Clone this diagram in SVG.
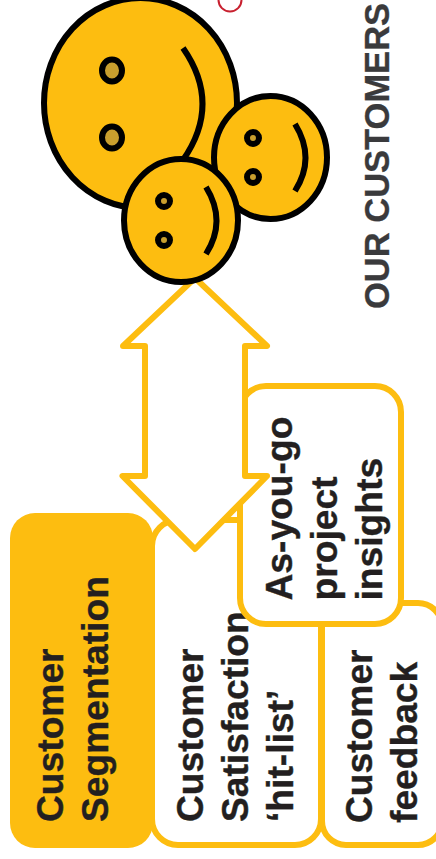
<svg xmlns="http://www.w3.org/2000/svg" width="436" height="859" viewBox="0 0 436 859">
<style>
.t{font-family:"Liberation Sans",Arial,sans-serif;font-weight:700;font-size:37.200px;fill:#231f20;stroke:#231f20;stroke-width:.4}
.b{fill:#fff;stroke:#fdbd10;stroke-width:6}
.f{fill:#fdbd10;stroke:#000;stroke-width:6}
.m{fill:none;stroke:#000;stroke-width:6}
.e{fill:#c99f2e;stroke:#000}
</style>
<rect width="436" height="859" fill="#fff"/>
<g id="marker-circle"><circle cx="230" cy="0" r="11.500" fill="#fff" stroke="#c8202f" stroke-width="2"/></g>
<g id="feedback"><rect class="b" x="322" y="603" width="120" height="242" rx="24"/>
<text class="t" transform="translate(371.500,823) rotate(-90)">Customer</text>
<text class="t" transform="translate(416.500,823) rotate(-90)">feedback</text></g>
<g id="satisfaction"><rect class="b" x="152" y="520" width="169" height="325" rx="26"/>
<text class="t" transform="translate(202.500,822) rotate(-90)">Customer</text>
<text class="t" transform="translate(247.500,822) rotate(-90)">Satisfaction</text>
<text class="t" transform="translate(292.500,822) rotate(-90)">‘hit-list’</text></g>
<g id="segmentation"><rect x="10" y="513" width="143" height="335" rx="25" fill="#fdbd10"/>
<text class="t" transform="translate(63,822) rotate(-90)">Customer</text>
<text class="t" transform="translate(108,822) rotate(-90)">Segmentation</text></g>
<g id="insights"><rect class="b" x="240" y="386" width="161" height="238" rx="26"/>
<text class="t" transform="translate(291.500,600.500) rotate(-90)">As-you-go</text>
<text class="t" transform="translate(336.500,600.500) rotate(-90)">project</text>
<text class="t" transform="translate(381.500,600.500) rotate(-90)">insights</text></g>
<g id="connectors"><path d="M195 278L267 346H245V476H267L195 549L122.500 476H145V346H123Z" fill="#fff" stroke="#fdbd10" stroke-width="6" stroke-linejoin="round"/></g>
<g id="large-face"><ellipse class="f" cx="140.500" cy="103" rx="96.500" ry="105"/>
<ellipse class="e" cx="112" cy="70.500" rx="10" ry="11" stroke-width="6"/><ellipse class="e" cx="112" cy="137.500" rx="10" ry="11" stroke-width="6"/>
<path class="m" d="M183 48Q222 104 183 160"/></g>
<g id="right-face"><ellipse class="f" cx="270.500" cy="157.500" rx="56.500" ry="61.500"/>
<circle class="e" cx="253" cy="138" r="6" stroke-width="6"/><circle class="e" cx="253" cy="177" r="6" stroke-width="6"/>
<path class="m" d="M295 124Q316 158 295 191"/></g>
<g id="front-face"><ellipse class="f" cx="181" cy="220.500" rx="57" ry="61.500"/>
<circle class="e" cx="164" cy="201" r="6" stroke-width="6"/><circle class="e" cx="164" cy="240" r="6" stroke-width="6"/>
<path class="m" d="M206 187Q227 221 206 254"/></g>
<g id="title"><text transform="translate(389,309) rotate(-90)" style="font-family:'Liberation Sans',Arial,sans-serif;font-weight:700;font-size:34.500px;fill:#3a3a3c;stroke:#3a3a3c;stroke-width:.3">OUR CUSTOMERS</text></g>
</svg>
